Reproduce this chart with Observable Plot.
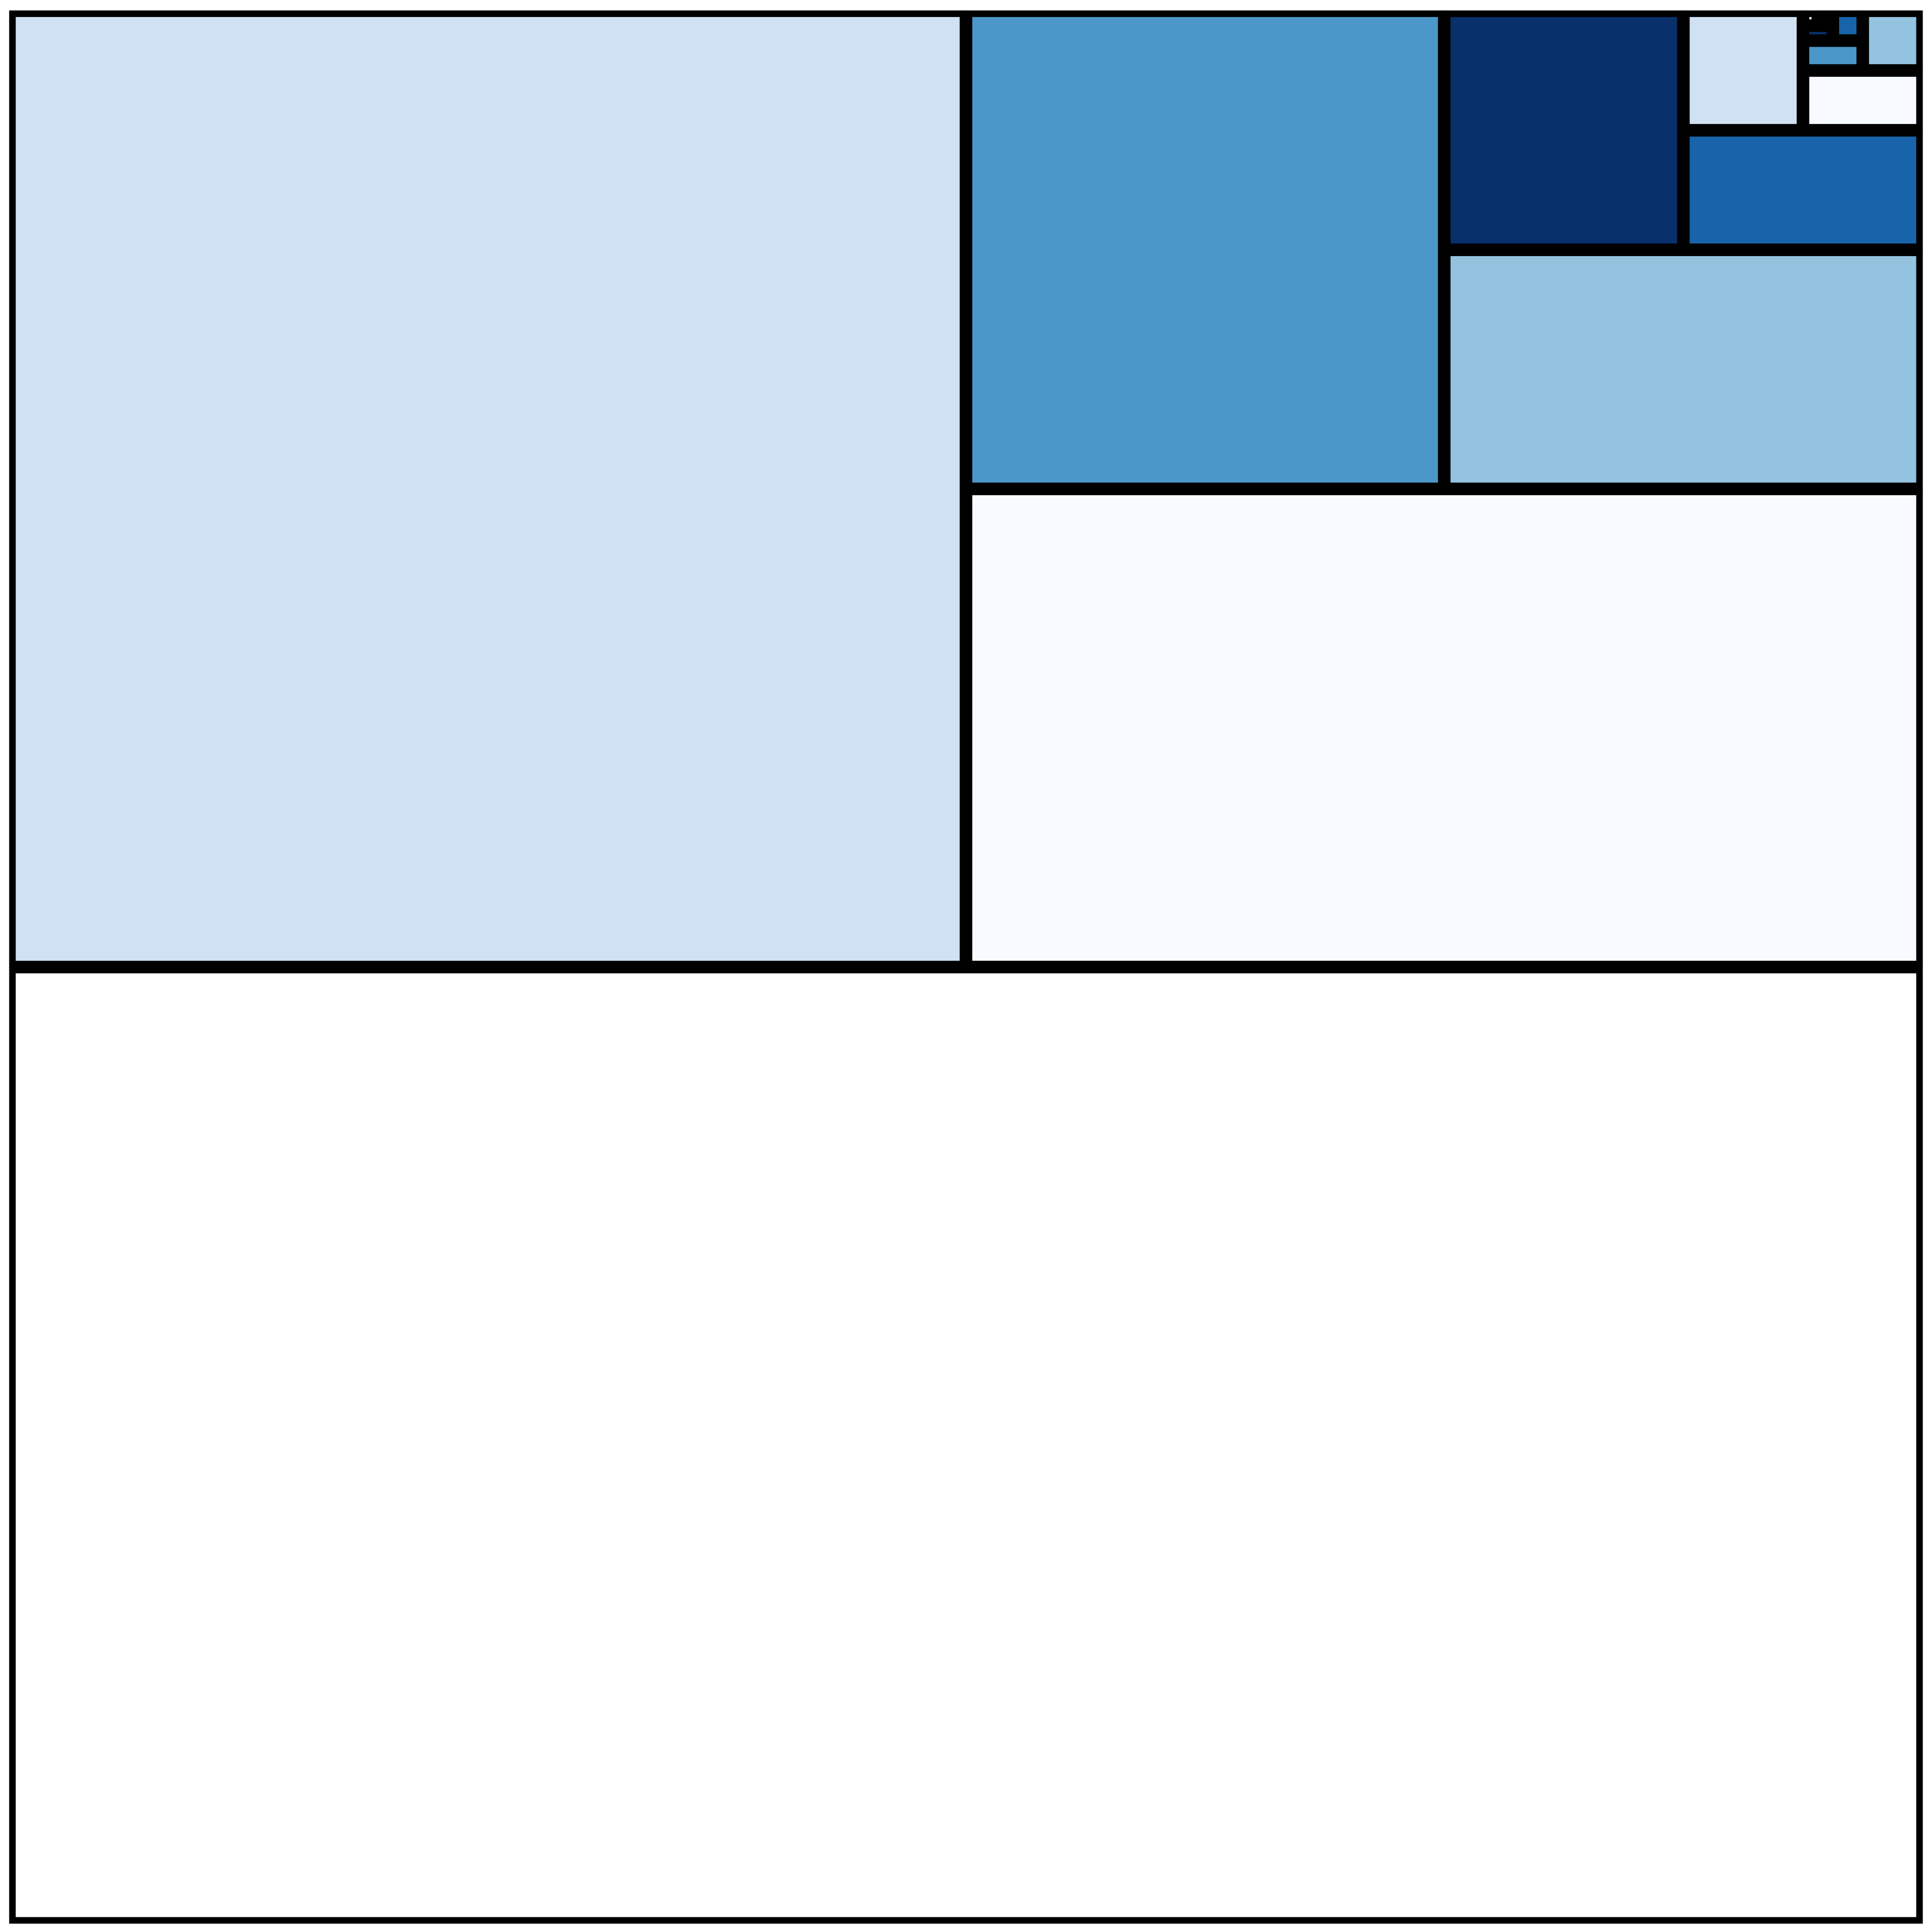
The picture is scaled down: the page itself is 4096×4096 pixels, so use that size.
<!DOCTYPE html>
<html>
<head>
<meta charset="utf-8">
<script src="https://cdn.jsdelivr.net/npm/d3@7"></script>
<script src="https://cdn.jsdelivr.net/npm/@observablehq/plot@0.6"></script>
<style>
  html, body { margin: 0; padding: 0; background: #ffffff; }
  #chart svg { display: block; }
</style>
</head>
<body>
<div id="chart"></div>
<script>
// Cell values (each cell is half of what remains), in tiling order
const cellValues = [32768, 16384, 8192, 4096, 2048, 1024, 512, 256, 128, 32, 8, 4, 2, 1, 1, 16, 64];
// Colour group of each cell
const cellGroups = ["none", "b1", "b0", "b3", "b2", "b5", "b4", "b1", "b0", "b3", "b5", "b1", "b0", "b3", "b2", "b4", "b2"];
// Colour categories
const groupDomain = ["none", "b0", "b1", "b2", "b3", "b4", "b5"];

const S = 0.91;
const W = 4096, H = 4096;

const root = d3.hierarchy({children: cellValues.map((v, i) => ({value: v, group: cellGroups[i]}))})
  .sum(d => d.children ? 0 : d.value);
d3.treemap().tile(d3.treemapBinary).size([1, 1]).round(false)(root);
const leaves = root.leaves().map(n => ({x0: n.x0, x1: n.x1, y0: n.y0, y1: n.y1, group: n.data.group}));

const sw = 14 * S;
const chart = Plot.plot({
  width: W,
  height: H,
  marginLeft: 22 * S,
  marginRight: W - 4479 * S,
  marginTop: 25 * S,
  marginBottom: H - 4481 * S,
  x: {domain: [0, 1], axis: null},
  y: {domain: [0, 1], axis: null},
  color: {type: "ordinal", domain: groupDomain, range: ["#ffffff", ...d3.quantize(d3.interpolateBlues, 6)]},
  marks: [
    Plot.rect(leaves, {
      x1: "x0", x2: "x1", y1: "y0", y2: "y1",
      fill: "group",
      stroke: "#000000",
      strokeWidth: sw + 1.2,
      inset: sw / 2
    })
  ]
});
document.getElementById("chart").appendChild(chart);
</script>
</body>
</html>
